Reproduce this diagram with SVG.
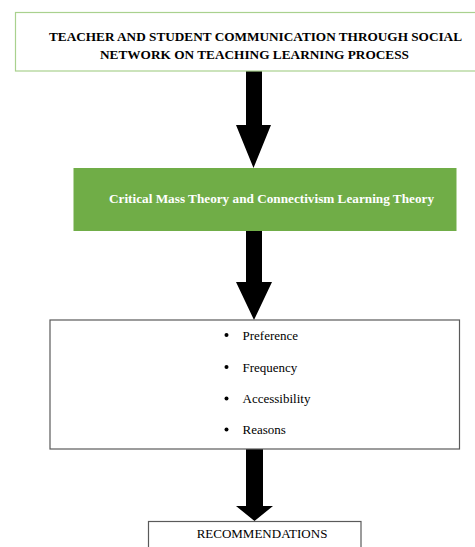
<svg xmlns="http://www.w3.org/2000/svg" width="475" height="547" viewBox="0 0 475 547">
  <style>
    .title { font-family: "Liberation Serif", "Times New Roman", serif; font-weight: bold; font-size: 13px; fill: #000; }
    .theory { font-family: "Liberation Serif", "Times New Roman", serif; font-weight: bold; font-size: 13px; fill: #fff; }
    .item { font-family: "Liberation Serif", "Times New Roman", serif; font-size: 13px; fill: #000; }
    .box { fill: #fff; stroke: #5a5a5a; stroke-width: 1.2; }
    .arrow { fill: #000; }
  </style>
  <rect width="475" height="547" fill="#fff"/>

  <g id="connectors">
    <polygon class="arrow" points="246,71 262,71 262,125 271,125 253.5,168 236,125 246,125"/>
    <polygon class="arrow" points="246,231 262,231 262,282 272,282 254,320 236,282 246,282"/>
    <polygon class="arrow" points="246,449 263,449 263,506 273,506 254.5,521 236,506 246,506"/>
  </g>

  <g id="topic">
    <rect x="15.5" y="12.5" width="470" height="58.5" fill="#fff" stroke="#a9d18e" stroke-width="1.2"/>
    <text class="title" x="255.5" y="40.5" text-anchor="middle" textLength="413" lengthAdjust="spacingAndGlyphs">TEACHER AND STUDENT COMMUNICATION THROUGH SOCIAL</text>
    <text class="title" x="254.5" y="58.5" text-anchor="middle" textLength="309" lengthAdjust="spacingAndGlyphs">NETWORK ON TEACHING LEARNING PROCESS</text>
  </g>

  <g id="theory">
    <rect x="73.5" y="168" width="383" height="63" fill="#70ad47"/>
    <text class="theory" x="271.5" y="203" text-anchor="middle" textLength="325" lengthAdjust="spacingAndGlyphs">Critical Mass  Theory and Connectivism Learning Theory</text>
  </g>

  <g id="factors">
    <rect class="box" x="50" y="320" width="409.5" height="129"/>
    <circle cx="226.5" cy="335" r="2"/>
    <text class="item" x="242.5" y="339.5">Preference</text>
    <circle cx="226.5" cy="367" r="2"/>
    <text class="item" x="242.5" y="371.5">Frequency</text>
    <circle cx="226.5" cy="398.5" r="2"/>
    <text class="item" x="242.5" y="403">Accessibility</text>
    <circle cx="226.5" cy="429.5" r="2"/>
    <text class="item" x="242.5" y="434">Reasons</text>
  </g>

  <g id="recommendations">
    <rect class="box" x="148.5" y="521.5" width="212.5" height="40"/>
    <text class="item" x="262" y="538" text-anchor="middle">RECOMMENDATIONS</text>
  </g>
</svg>
